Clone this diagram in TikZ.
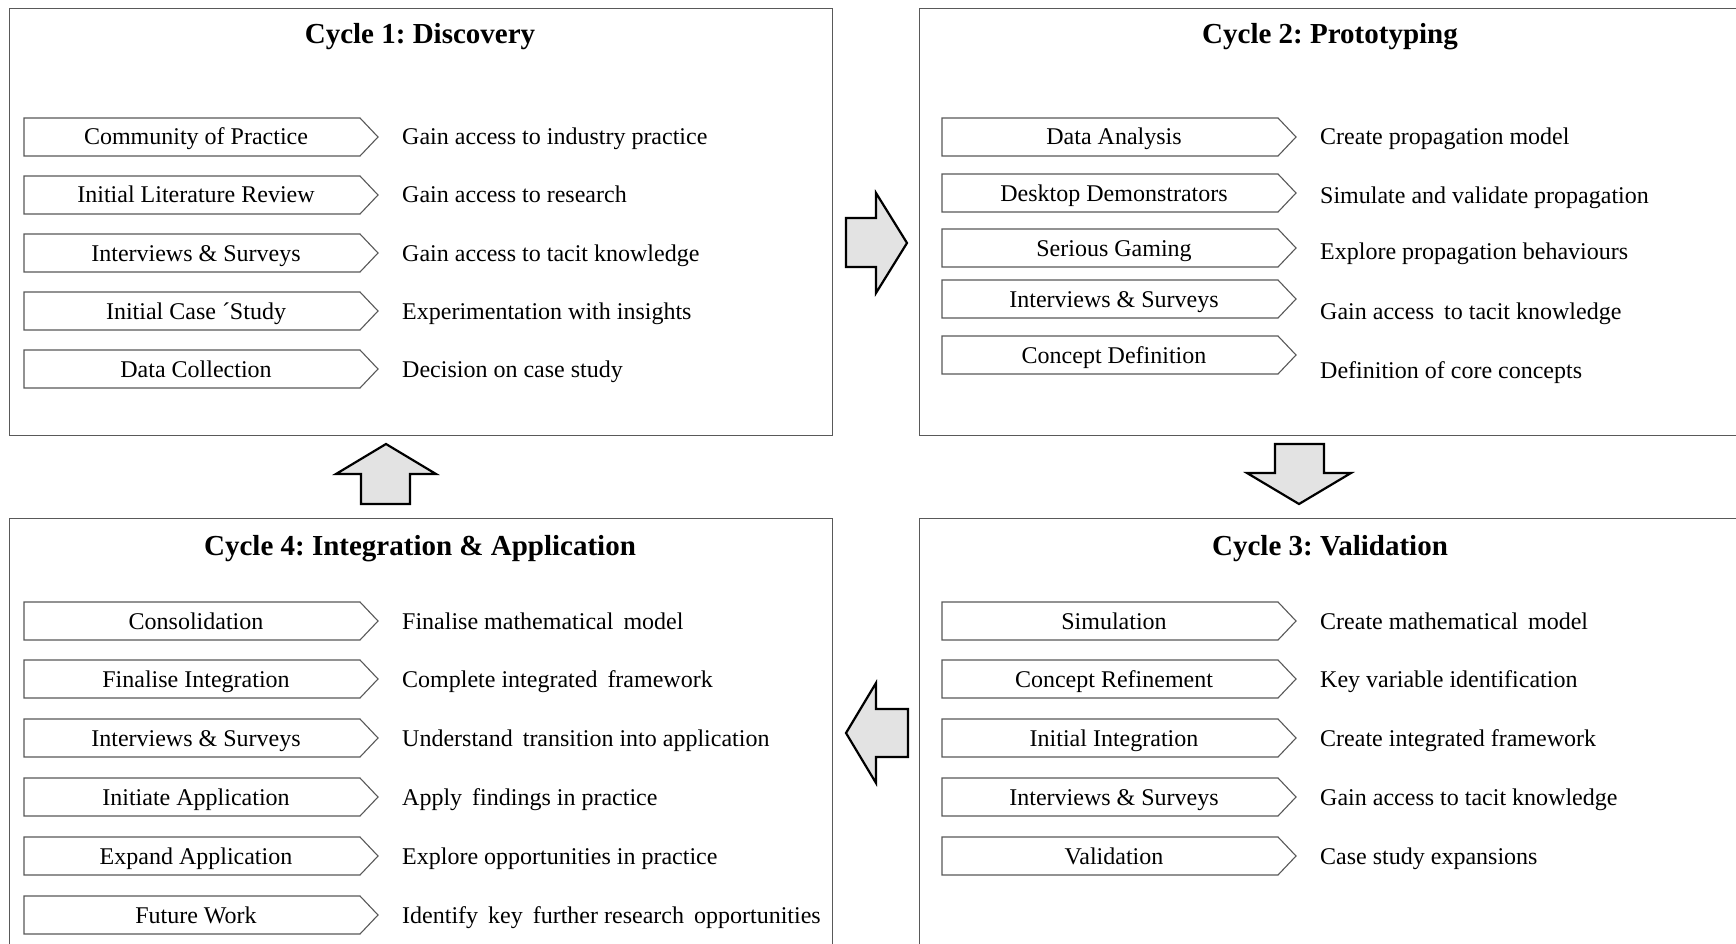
\documentclass[tikz,border=0pt]{standalone}
\usepackage{fontspec}
\setmainfont{Liberation Serif}
\usetikzlibrary{calc}
\frenchspacing

% one stage: chevron with its label, and the outcome text to its right
% #1 name, #2 left x, #3 chevron centre y, #4 label, #5 outcome centre y, #6 outcome
\newcommand{\stagerow}[6]{%
  \draw[chevline] (#2,#3-19) -- ++(336,0) -- ++(18,19) -- ++(-18,19) -- ++(-336,0) -- cycle;
  \node[stagetext] (#1) at (#2+172,#3+8) {#4};
  \node[outtext] (#1out) at (#2+378,#5+8) {#6};
}

\begin{document}
\begin{tikzpicture}[x=1pt,y=-1pt,
  cyclebox/.style={draw=black!65, line width=1.4pt, fill=white, anchor=north west, inner sep=0pt},
  chevline/.style={draw=black!65, line width=1.1pt, fill=white, line join=miter},
  stagetext/.style={anchor=base, inner sep=0pt, font=\fontsize{24}{28}\selectfont},
  outtext/.style={anchor=base west, inner sep=0pt, font=\fontsize{24}{28}\selectfont},
  titletext/.style={anchor=base, inner sep=0pt, font=\fontsize{29}{33}\selectfont\bfseries},
  flowarrow/.style={draw=black, line width=2.2pt, fill=black!11, line join=miter}]

\clip (0,0) rectangle (1736,944);
\fill[white] (0,0) rectangle (1736,944);

% the four cycle panels
\node[cyclebox, minimum width=823pt, minimum height=427pt] (cyc1) at (9,8) {};
\node[cyclebox, minimum width=822pt, minimum height=427pt] (cyc2) at (919,8) {};
\node[cyclebox, minimum width=822pt, minimum height=440pt] (cyc3) at (919,518) {};
\node[cyclebox, minimum width=823pt, minimum height=440pt] (cyc4) at (9,518) {};

\node[titletext] (t1) at (420,44) {Cycle 1: Discovery};
\node[titletext] (t2) at (1330,44) {Cycle 2: Prototyping};
\node[titletext] (t3) at (1330,555) {Cycle 3: Validation};
\node[titletext] (t4) at (420,555) {Cycle 4: Integration \& Application};

% Cycle 1
\stagerow{a1}{24}{137}{Community of Practice}{137}{Gain access to industry practice}
\stagerow{a2}{24}{195}{Initial Literature Review}{195}{Gain access to research}
\stagerow{a3}{24}{253}{Interviews \& Surveys}{253}{Gain access to tacit knowledge}
\stagerow{a4}{24}{311}{Initial Case ´Study}{311}{Experimentation with insights}
\stagerow{a5}{24}{369}{Data Collection}{369}{Decision on case study}

% Cycle 2
\stagerow{b1}{942}{137}{Data Analysis}{137}{Create propagation model}
\stagerow{b2}{942}{193}{Desktop Demonstrators}{196}{Simulate and validate propagation}
\stagerow{b3}{942}{248}{Serious Gaming}{251}{Explore propagation behaviours}
\stagerow{b4}{942}{299}{Interviews \& Surveys}{311}{Gain access\, to tacit knowledge}
\stagerow{b5}{942}{355}{Concept Definition}{370}{Definition of core concepts}

% Cycle 3
\stagerow{c1}{942}{621}{Simulation}{621}{Create mathematical\, model}
\stagerow{c2}{942}{679}{Concept Refinement}{679}{Key variable identification}
\stagerow{c3}{942}{738}{Initial Integration}{738}{Create integrated framework}
\stagerow{c4}{942}{797}{Interviews \& Surveys}{797}{Gain access to tacit knowledge}
\stagerow{c5}{942}{856}{Validation}{856}{Case study expansions}

% Cycle 4
\stagerow{d1}{24}{621}{Consolidation}{621}{Finalise mathematical\, model}
\stagerow{d2}{24}{679}{Finalise Integration}{679}{Complete integrated\, framework}
\stagerow{d3}{24}{738}{Interviews \& Surveys}{738}{Understand\, transition into application}
\stagerow{d4}{24}{797}{Initiate Application}{797}{Apply\, findings in practice}
\stagerow{d5}{24}{856}{Expand Application}{856}{Explore opportunities in practice}
\stagerow{d6}{24}{915}{Future Work}{915}{Identify\, key\, further research\, opportunities}

% block arrows leading from one cycle to the next
\draw[flowarrow] (846,218) -- (876,218) -- (876,193) -- (907,243) -- (876,293) -- (876,267) -- (846,267) -- cycle;
\draw[flowarrow] (1275,444) -- (1324,444) -- (1324,473) -- (1351,473) -- (1299,504) -- (1247,473) -- (1275,473) -- cycle;
\draw[flowarrow] (908,709) -- (876,709) -- (876,683) -- (846,733) -- (876,783) -- (876,757) -- (908,757) -- cycle;
\draw[flowarrow] (361,504) -- (361,474) -- (336,474) -- (386,444) -- (436,474) -- (410,474) -- (410,504) -- cycle;
\end{tikzpicture}
\end{document}
